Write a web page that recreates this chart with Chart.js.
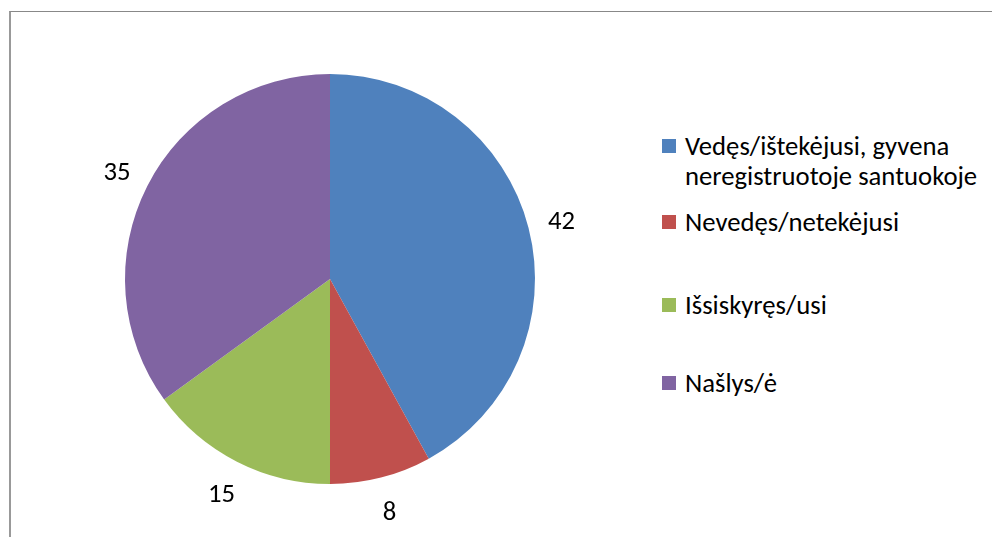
<!DOCTYPE html>
<html>
<head>
<meta charset="utf-8">
<script src="https://cdn.jsdelivr.net/npm/chart.js@4"></script>
<style>
    body { margin: 0; width: 992px; height: 537px; overflow: hidden; background: #fff; font-family: Carlito, "Open Sans", sans-serif; }
    #frame { position: absolute; left: 9px; top: 11px; width: 1100px; height: 700px; border-left: 2px solid #999; border-top: 1px solid #888; }
    #chart-box { position: absolute; left: 0; top: 0; width: 660px; height: 537px; }
    .legend-item { position: absolute; left: 662px; display: flex; align-items: flex-start; font-size: 26.7px; line-height: 30px; color: #000; white-space: nowrap; }
    .legend-item span.box { width: 14px; height: 14px; margin-top: 8px; margin-right: 9px; flex: none; }
</style>
</head>
<body>
<div id="frame"></div>
<div id="chart-box"><canvas id="pie"></canvas></div>
<div id="legend"></div>
<script>
document.addEventListener("DOMContentLoaded", function() {
    const categories = [
        ['Vedęs/ištekėjusi, gyvena', 'neregistruotoje santuokoje'],
        ['Nevedęs/netekėjusi'],
        ['Išsiskyręs/usi'],
        ['Našlys/ė']
    ];
    const values = [42, 8, 15, 35];
    const colors = ['#4F81BD', '#C0504D', '#9BBB59', '#8064A2'];
    const legendTops = [131, 207, 290, 368];

    // legend drawn as html on the right
    const legend = document.getElementById('legend');
    categories.forEach((lines, i) => {
        const item = document.createElement('div');
        item.className = 'legend-item';
        item.style.top = legendTops[i] + 'px';
        item.innerHTML = `<span class="box" style="background:${colors[i]}"></span><span>${lines.join('<br>')}</span>`;
        legend.appendChild(item);
    });

    // value labels just outside each slice
    const outsideLabels = {
        id: 'outsideLabels',
        afterDatasetsDraw(chart) {
            const ctx = chart.ctx;
            const meta = chart.getDatasetMeta(0);
            ctx.save();
            ctx.font = '26.7px Carlito, "Open Sans", sans-serif';
            ctx.fillStyle = '#000';
            ctx.textAlign = 'center';
            ctx.textBaseline = 'middle';
            meta.data.forEach((arc, i) => {
                const p = arc.getProps(['x', 'y', 'startAngle', 'endAngle', 'outerRadius'], true);
                const mid = (p.startAngle + p.endAngle) / 2;
                const r = p.outerRadius + 34;
                ctx.fillText(String(values[i]), p.x + Math.cos(mid) * r, p.y + Math.sin(mid) * r + 3);
            });
            ctx.restore();
        }
    };

    const ctx = document.getElementById('pie').getContext('2d');
    new Chart(ctx, {
        type: 'pie',
        data: {
            labels: categories.map(l => l.join(' ')),
            datasets: [{
                data: values,
                backgroundColor: colors,
                borderWidth: 0
            }]
        },
        options: {
            responsive: true,
            maintainAspectRatio: false,
            animation: false,
            layout: {
                padding: { top: 74, bottom: 53, left: 125, right: 125 }
            },
            plugins: {
                legend: { display: false },
                tooltip: { enabled: false }
            }
        },
        plugins: [outsideLabels]
    });
});
</script>
</body>
</html>
